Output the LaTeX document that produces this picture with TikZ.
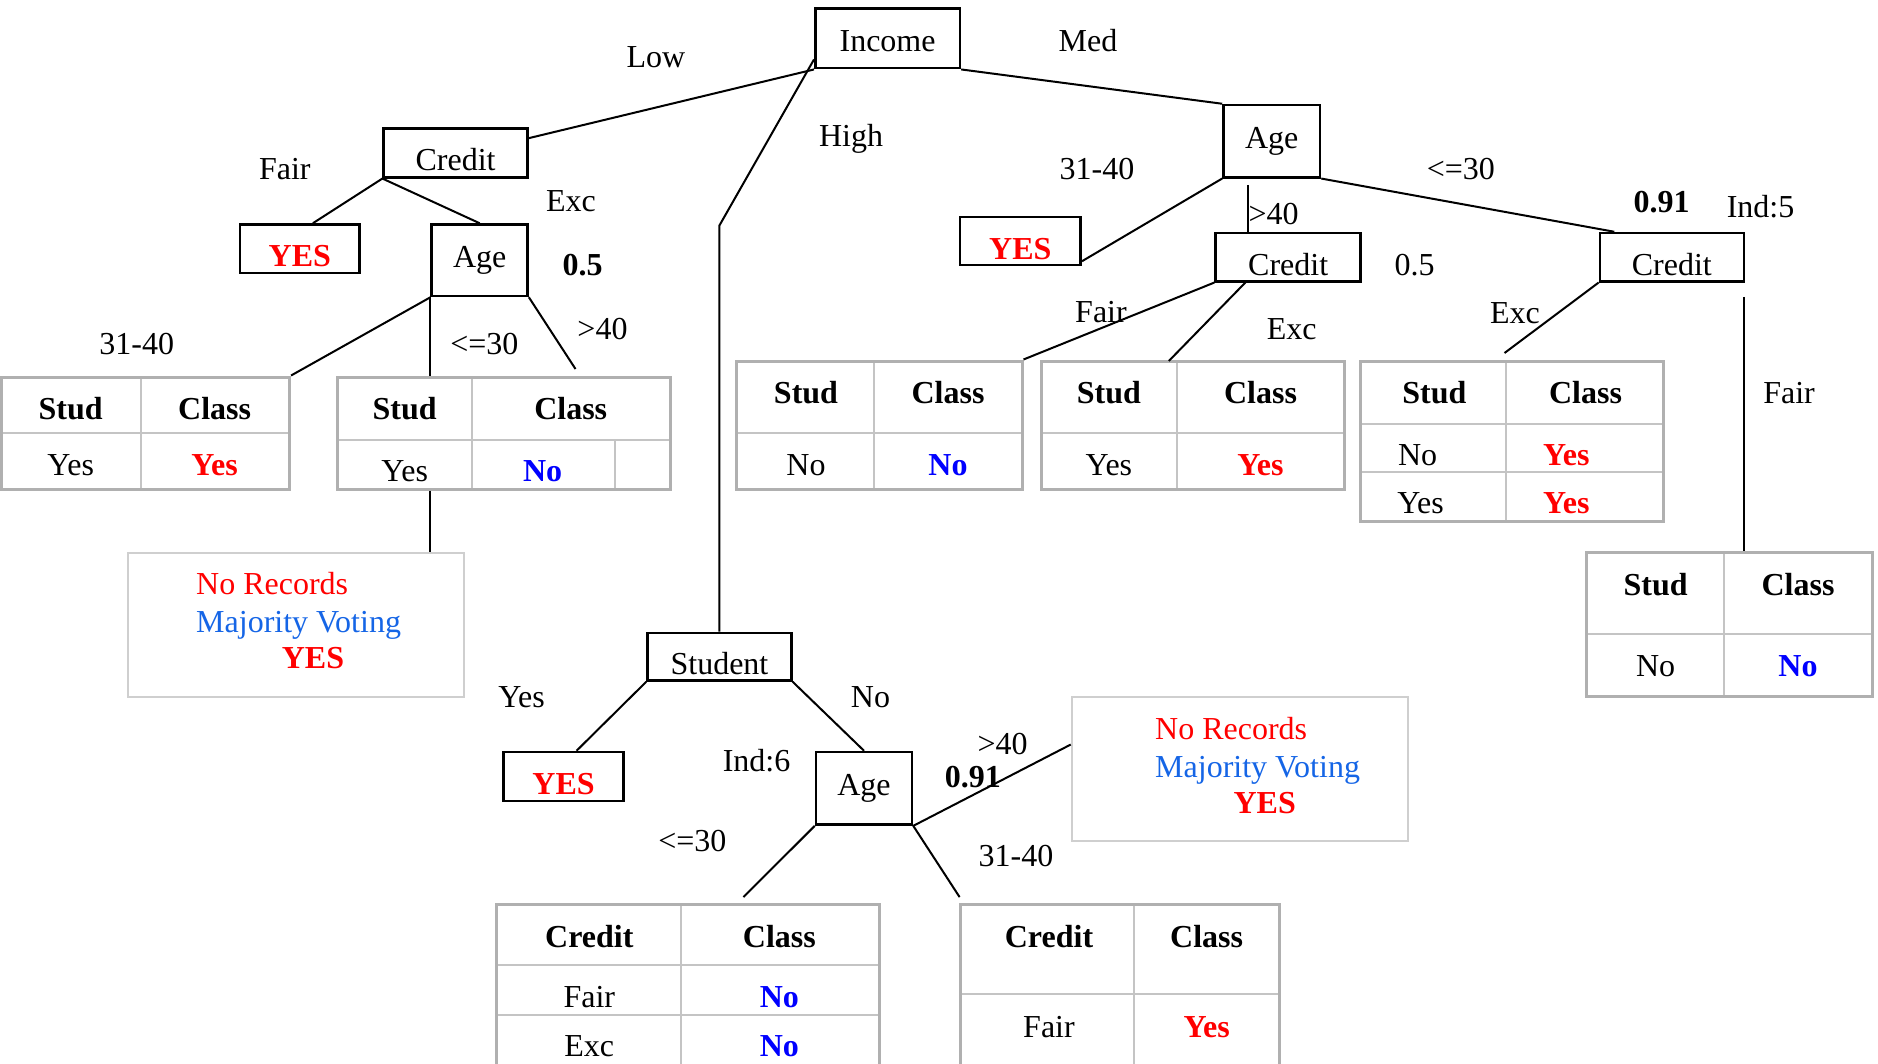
\documentclass[tikz,border=0pt]{standalone}
\usepackage{fontspec}
\setmainfont{Liberation Serif}
\newcommand\myfs{\fontsize{32}{38}\selectfont}
\definecolor{myred}{HTML}{FF0000}
\definecolor{myblue}{HTML}{0000FF}
\definecolor{mvblue}{HTML}{1565E6}
\definecolor{tblgray}{HTML}{B0B0B0}
\definecolor{tblin}{HTML}{C4C4C4}
\definecolor{nrgray}{HTML}{CFCFCF}
\tikzset{
  tbox/.style={draw, line width=2.5pt, inner sep=0pt, font=\myfs, text height=36.2pt, text depth=0pt},
  agebox/.style={draw, line width=2.5pt, inner sep=0pt, font=\myfs, text height=21.2pt, text depth=6pt},
  incbox/.style={draw, line width=2.5pt, inner sep=0pt, font=\myfs, text height=26.2pt, text depth=0pt},
  txt/.style={inner sep=0pt, font=\myfs, text height=21.2pt, text depth=0pt},
  btxt/.style={txt, font=\myfs\bfseries},
  redb/.style={btxt, text=myred},
  blueb/.style={btxt, text=myblue},
  conn/.style={line width=2pt, black},
  tbl/.style={draw=tblgray, line width=3pt, inner sep=0pt},
  tline/.style={draw=tblin, line width=2pt},
  nrbox/.style={draw=nrgray, line width=2pt, inner sep=0pt},
}
\begin{document}
\begin{tikzpicture}[x=1pt,y=-1pt]
\useasboundingbox (0,0) rectangle (1878,1064);
% ---------- tree boxes ----------
\node[incbox, minimum width=144.7pt, minimum height=59.6pt] (income) at (887.6,38.4) {Income};
\node[tbox, minimum width=143.9pt, minimum height=48.9pt] (credit1) at (455.6,152.85) {Credit};
\node[tbox, minimum width=119.7pt, minimum height=48.5pt, font=\myfs\bfseries, text=myred] (yes1) at (299.85,248.75) {YES};
\node[agebox, minimum width=95.9pt, minimum height=71.5pt] (age1) at (479.65,260.25) {Age};
\node[agebox, minimum width=96.6pt, minimum height=72.3pt] (age2) at (1271.7,141.15) {Age};
\node[tbox, minimum width=120.7pt, minimum height=48pt, font=\myfs\bfseries, text=myred] (yes2) at (1020.35,241) {YES};
\node[tbox, minimum width=145.1pt, minimum height=48.3pt] (creditm) at (1288.15,257.15) {Credit};
\node[tbox, minimum width=143.9pt, minimum height=48.3pt] (creditr) at (1671.85,257.15) {Credit};
\node[tbox, minimum width=143.9pt, minimum height=47.6pt] (student) at (719.45,656.7) {Student};
\node[tbox, minimum width=119.9pt, minimum height=49.1pt, font=\myfs\bfseries, text=myred] (yes3) at (563.55,776.55) {YES};
\node[agebox, minimum width=96pt, minimum height=72.6pt] (age3) at (864,788.3) {Age};
% ---------- tables ----------
\node[tbl, minimum width=288.6pt, minimum height=112pt] (t1) at (145.3,433) {};
\node[tbl, minimum width=333pt, minimum height=112pt] (t2) at (503.5,433) {};
\node[tbl, minimum width=285.8pt, minimum height=128pt] (t3) at (879.1,425) {};
\node[tbl, minimum width=303pt, minimum height=128pt] (t4) at (1192.5,425) {};
\node[tbl, minimum width=302.7pt, minimum height=160pt] (t5) at (1512.05,441) {};
\node[tbl, minimum width=285.3pt, minimum height=144.1pt] (t6) at (1729.35,624.85) {};
\node[tbl, minimum width=383.1pt, minimum height=175.4pt] (t7) at (687.95,992.3) {};
\node[tbl, minimum width=319.7pt, minimum height=175.4pt] (t8) at (1119.85,992.3) {};
\node[nrbox, minimum width=335.7pt, minimum height=144.1pt] (nr1) at (296.15,624.85) {};
\node[nrbox, minimum width=336.3pt, minimum height=144.1pt] (nr2) at (1239.85,768.55) {};
% inner table lines
\draw[tline] (141,378.5) -- (141,487.5) (2.5,433) -- (288,433);
\draw[tline] (471.8,378.5) -- (471.8,487.5) (338.5,440) -- (668.5,440) (614.5,440) -- (614.5,487.5);
\draw[tline] (874,362.5) -- (874,487.5) (737.7,433) -- (1020.5,433);
\draw[tline] (1176.6,362.5) -- (1176.6,487.5) (1042.5,433) -- (1342.5,433);
\draw[tline] (1506.3,362.5) -- (1506.3,519.5) (1362.2,423.6) -- (1661.9,423.6) (1362.2,472) -- (1661.9,472);
\draw[tline] (1724,554.3) -- (1724,695.4) (1588.2,633.5) -- (1870.5,633.5);
\draw[tline] (680.5,906.1) -- (680.5,1078) (497.9,965.2) -- (878,965.2) (497.9,1014.6) -- (878,1014.6);
\draw[tline] (1134,906.1) -- (1134,1078) (961.5,994.2) -- (1278.2,994.2);
% table texts
\node[btxt] (t1h1) at (70.7,409) {Stud};
\node[btxt] (t1h2) at (214.6,409) {Class};
\node[txt] (t1v1) at (70.7,465) {Yes};
\node[redb] (t1v2) at (214.6,465) {Yes};
\node[btxt] (t2h1) at (404.7,409) {Stud};
\node[btxt] (t2h2) at (570.7,409) {Class};
\node[txt] (t2v1) at (404.7,471) {Yes};
\node[blueb] (t2v2) at (542.6,471) {No};
\node[btxt] (t3h1) at (806,393) {Stud};
\node[btxt] (t3h2) at (948,393) {Class};
\node[txt] (t3v1) at (806,465) {No};
\node[blueb] (t3v2) at (948,465) {No};
\node[btxt] (t4h1) at (1108.9,393) {Stud};
\node[btxt] (t4h2) at (1260.5,393) {Class};
\node[txt] (t4v1) at (1108.9,465) {Yes};
\node[redb] (t4v2) at (1260.5,465) {Yes};
\node[btxt] (t5h1) at (1434.4,393) {Stud};
\node[btxt] (t5h2) at (1585.5,393) {Class};
\node[txt] (t5v1) at (1417.6,455) {No};
\node[redb] (t5v2) at (1566.3,455) {Yes};
\node[txt] (t5v3) at (1420.6,503) {Yes};
\node[redb] (t5v4) at (1566.3,503) {Yes};
\node[btxt] (t6h1) at (1655.6,584.5) {Stud};
\node[btxt] (t6h2) at (1798,584.5) {Class};
\node[txt] (t6v1) at (1655.6,665.5) {No};
\node[blueb] (t6v2) at (1798,665.5) {No};
\node[btxt] (t7h1) at (589.3,937) {Credit};
\node[btxt] (t7h2) at (779.4,937) {Class};
\node[txt] (t7v1) at (589.3,996.6) {Fair};
\node[blueb] (t7v2) at (779.4,996.6) {No};
\node[txt] (t7v3) at (589.3,1046) {Exc};
\node[blueb] (t7v4) at (779.4,1046) {No};
\node[btxt] (t8h1) at (1049,937) {Credit};
\node[btxt] (t8h2) at (1206.6,937) {Class};
\node[txt] (t8v1) at (1049,1027.2) {Fair};
\node[redb] (t8v2) at (1206.6,1027.2) {Yes};
% no-records texts
\node[txt, anchor=west, text=myred] (nr1a) at (196,584) {No Records};
\node[txt, anchor=west, text=mvblue] (nr1b) at (196,621.7) {Majority Voting};
\node[redb] (nr1c) at (313,658.3) {YES};
\node[txt, anchor=west, text=myred] (nr2a) at (1155,729.2) {No Records};
\node[txt, anchor=west, text=mvblue] (nr2b) at (1155,766.7) {Majority Voting};
\node[redb] (nr2c) at (1264.7,802.5) {YES};
% ---------- connectors ----------
\coordinate (hbend) at (719.4,225.5);
\coordinate (c40a) at (575.5,369);
\coordinate (c40b) at (1248,185);
\coordinate (t4c) at (1168.8,361);
\coordinate (t5c) at (1504.5,353);
\coordinate (cfair) at (1743.8,297);
\coordinate (t7c) at (743.4,897.1);
\coordinate (t8c) at (959.6,897.1);
\draw[conn] (income.south west) -- ([yshift=-11pt]credit1.north east);
\draw[conn] ([yshift=10pt]income.south west) -- (hbend) -- (student.north);
\draw[conn] (income.south east) -- (age2.north west);
\draw[conn] (credit1.south west) -- ([xshift=13pt]yes1.north);
\draw[conn] (credit1.south west) -- (age1.north);
\draw[conn] (age1.south west) -- (t1.north east);
\draw[conn] (age1.south west) -- (age1.south west |- t2.north);
\draw[conn] (age1.south east) -- (c40a);
\draw[conn] (age1.south west |- t2.south) -- (age1.south west |- nr1.north);
\draw[conn] (age2.south west) -- ([yshift=5pt]yes2.south east);
\draw[conn] (c40b) -- (c40b |- creditm.north);
\draw[conn] (age2.south east) -- ([xshift=15.6pt]creditr.north west);
\draw[conn] (creditm.south west) -- (t3.north east);
\draw[conn] ([xshift=31pt]creditm.south west) -- (t4c);
\draw[conn] (creditr.south west) -- (t5c);
\draw[conn] (cfair) -- (cfair |- t6.north);
\draw[conn] (student.south west) -- ([xshift=13pt]yes3.north);
\draw[conn] (student.south east) -- (age3.north);
\draw[conn] (age3.south west) -- (t7c);
\draw[conn] (age3.south east) -- (t8c);
\draw[conn] (age3.south east) -- ([yshift=24pt]nr2.west);
% ---------- edge labels ----------
\node[txt] (lLow) at (656,57) {Low};
\node[txt] (lHigh) at (851,136) {High};
\node[txt] (lMed) at (1088,40.6) {Med};
\node[txt] (lFair1) at (284.8,168.7) {Fair};
\node[txt] (lExc1) at (571,201) {Exc};
\node[btxt] (lv05a) at (582.7,265) {0.5};
\node[txt] (l3140a) at (136.7,344) {31-40};
\node[txt] (l30a) at (484.4,344) {<=30};
\node[txt] (l40a) at (602.5,329) {>40};
\node[txt] (l3140b) at (1097,169) {31-40};
\node[txt] (l40b) at (1273.7,213.5) {>40};
\node[txt] (lv05b) at (1414.6,264.5) {0.5};
\node[txt] (l30b) at (1460.8,169) {<=30};
\node[btxt] (lv091a) at (1661.6,201.5) {0.91};
\node[txt] (lind5) at (1760.5,207) {Ind:5};
\node[txt] (lFair2) at (1101,311.6) {Fair};
\node[txt] (lExc2) at (1291.7,329) {Exc};
\node[txt] (lExc3) at (1515,312.7) {Exc};
\node[txt] (lFair3) at (1789,393) {Fair};
\node[txt] (lYes) at (521.6,696.9) {Yes};
\node[txt] (lNo) at (870.5,696.9) {No};
\node[txt] (lind6) at (756.6,760.6) {Ind:6};
\node[txt] (l30c) at (692.4,840.6) {<=30};
\node[txt] (l40c) at (1002.7,743.9) {>40};
\node[btxt] (lv091b) at (972.8,776.9) {0.91};
\node[txt] (l3140c) at (1016,856.3) {31-40};
\end{tikzpicture}
\end{document}
